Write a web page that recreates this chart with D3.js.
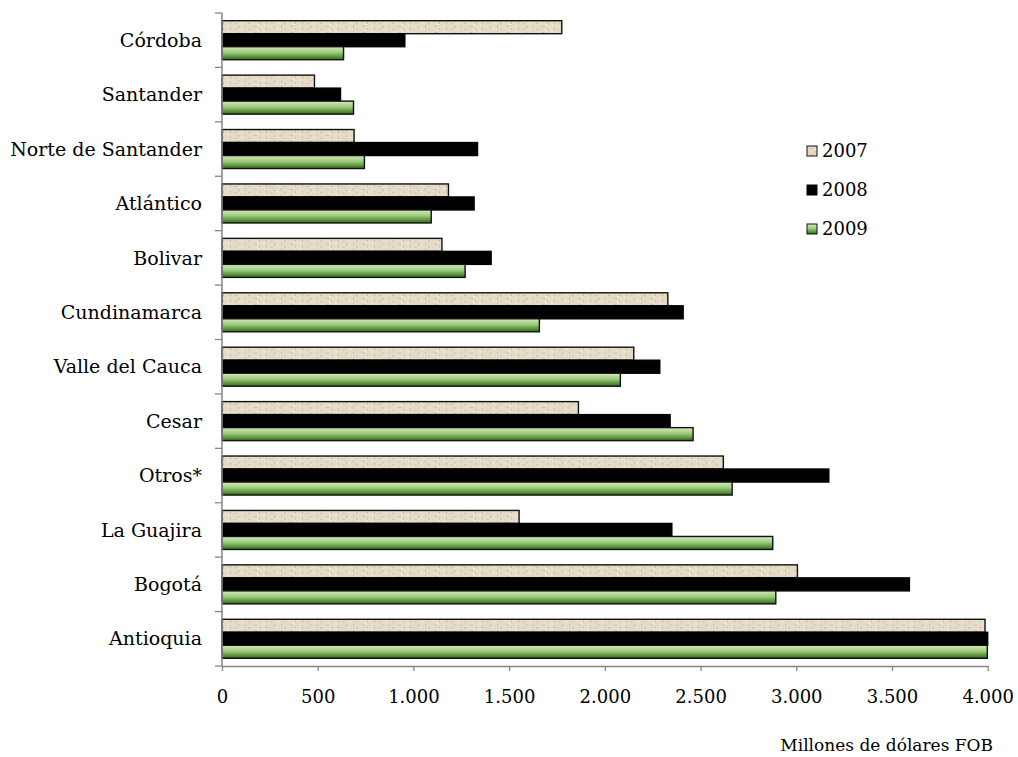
<!DOCTYPE html>
<html>
<head>
<meta charset="utf-8">
<script src="https://cdn.jsdelivr.net/npm/d3@7/dist/d3.min.js"></script>
<style>
  html, body { margin: 0; padding: 0; background: #ffffff; }
  svg { display: block; }
  text { font-family: "DejaVu Serif", "Liberation Serif", serif; fill: #000; }
</style>
</head>
<body>
<svg id="chart" width="1018" height="757"></svg>
<script>
const categories = ["Córdoba", "Santander", "Norte de Santander", "Atlántico", "Bolivar",
  "Cundinamarca", "Valle del Cauca", "Cesar", "Otros*", "La Guajira", "Bogotá", "Antioquia"];
const seriesNames = ["2007", "2008", "2009"];
const values2007 = [1775, 483, 690, 1183, 1149, 2329, 2151, 1862, 2619, 1552, 3006, 3986];
const values2008 = [955, 619, 1335, 1317, 1406, 2409, 2287, 2341, 3170, 2350, 3591, 4000];
const values2009 = [635, 687, 744, 1093, 1270, 1658, 2081, 2461, 2665, 2877, 2893, 3998];
const xTickValues = [0, 500, 1000, 1500, 2000, 2500, 3000, 3500, 4000];
const xTitle = "Millones de dólares FOB";

const seriesValues = [values2007, values2008, values2009];

const svg = d3.select("#chart");
const defs = svg.append("defs");

// Texture for 2007 (parchment-like)
const pat = defs.append("pattern")
  .attr("id", "tex2007").attr("patternUnits", "userSpaceOnUse")
  .attr("width", 36).attr("height", 6);
pat.append("rect").attr("width", 36).attr("height", 6).attr("fill", "#e6dbc6");
const specks = [[2,1,3,1,"#cdc1aa"],[7,3,1,2,"#c9bca5"],[11,0,2,1,"#f3eee4"],[14,2,1,3,"#cbbfa8"],
  [18,4,3,1,"#d1c5ae"],[22,1,1,2,"#c6b9a1"],[25,3,2,1,"#f2ece1"],[29,0,1,3,"#cec2ac"],[32,4,2,1,"#cabea7"],[5,5,2,1,"#f4efe6"]];
specks.forEach(s => pat.append("rect").attr("x", s[0]).attr("y", s[1]).attr("width", s[2]).attr("height", s[3]).attr("fill", s[4]));

const grad = defs.append("linearGradient").attr("id", "grad2009")
  .attr("x1", 0).attr("y1", 0).attr("x2", 0).attr("y2", 1);
grad.append("stop").attr("offset", "0%").attr("stop-color", "#d6eac2");
grad.append("stop").attr("offset", "45%").attr("stop-color", "#9ccb78");
grad.append("stop").attr("offset", "100%").attr("stop-color", "#2e6b18");

const fills = ["url(#tex2007)", "#000000", "url(#grad2009)"];
const strokes = ["#111111", "#000000", "#111111"];

const x = d3.scaleLinear().domain([0, 4000]).range([222, 987.7]).clamp(true);
const yOuter = d3.scaleBand().domain(categories).range([13, 666]).padding(0);
const pad = yOuter.bandwidth() * 0.1415;
const yInner = d3.scaleBand().domain(seriesNames).range([pad, yOuter.bandwidth() - pad]).padding(0);

// Bars
const groups = svg.append("g").selectAll("g")
  .data(categories).join("g")
  .attr("transform", d => `translate(0,${yOuter(d)})`);

groups.selectAll("rect")
  .data((c, i) => seriesNames.map((s, j) => ({ s, j, v: seriesValues[j][i] })))
  .join("rect")
  .attr("x", x(0))
  .attr("y", d => yInner(d.s))
  .attr("height", yInner.bandwidth())
  .attr("width", d => x(d.v) - x(0))
  .attr("fill", d => fills[d.j])
  .attr("stroke", d => strokes[d.j])
  .attr("stroke-width", 1.4);

const axisColor = "#868686";

// Y axis: line + ticks at category boundaries
const yAxis = svg.append("g");
yAxis.append("line")
  .attr("x1", x(0)).attr("x2", x(0))
  .attr("y1", yOuter.range()[0]).attr("y2", yOuter.range()[1])
  .attr("stroke", axisColor).attr("stroke-width", 1.5);
const boundaries = categories.map(c => yOuter(c)).concat([yOuter.range()[1]]);
yAxis.selectAll("line.tick").data(boundaries).join("line")
  .attr("class", "tick")
  .attr("x1", x(0) - 7).attr("x2", x(0))
  .attr("y1", d => d).attr("y2", d => d)
  .attr("stroke", axisColor).attr("stroke-width", 1.3);
yAxis.selectAll("text").data(categories).join("text")
  .attr("x", 202)
  .attr("y", d => yOuter(d) + yOuter.bandwidth() / 2)
  .attr("dy", "0.35em")
  .attr("text-anchor", "end")
  .attr("font-size", 19)
  .text(d => d);

// X axis
const fmt = d => d3.format(",")(d).replace(/,/g, ".");
const xAxisG = svg.append("g").attr("transform", `translate(0,666)`)
  .call(d3.axisBottom(x).tickValues(xTickValues).tickFormat(fmt).tickSize(5).tickPadding(19).tickSizeOuter(0));
xAxisG.select(".domain").attr("stroke", axisColor).attr("stroke-width", 1.5);
xAxisG.selectAll(".tick line").attr("stroke", axisColor).attr("stroke-width", 1.3);
xAxisG.selectAll(".tick text")
  .attr("font-family", "DejaVu Serif")
  .attr("font-size", 18)
  .attr("fill", "#000");

svg.append("text")
  .attr("x", 993).attr("y", 751)
  .attr("text-anchor", "end")
  .attr("font-size", 17)
  .text(xTitle);

// Legend
const legend = svg.append("g");
const legendY = d3.scalePoint().domain(seriesNames).range([151, 229]);
seriesNames.forEach((s, j) => {
  legend.append("rect")
    .attr("x", 807).attr("y", legendY(s) - 5)
    .attr("width", 10).attr("height", 10)
    .attr("fill", fills[j]).attr("stroke", strokes[j]).attr("stroke-width", 1);
  legend.append("text")
    .attr("x", 822).attr("y", legendY(s))
    .attr("dy", "0.36em")
    .attr("font-size", 18)
    .text(s);
});
</script>
</body>
</html>
